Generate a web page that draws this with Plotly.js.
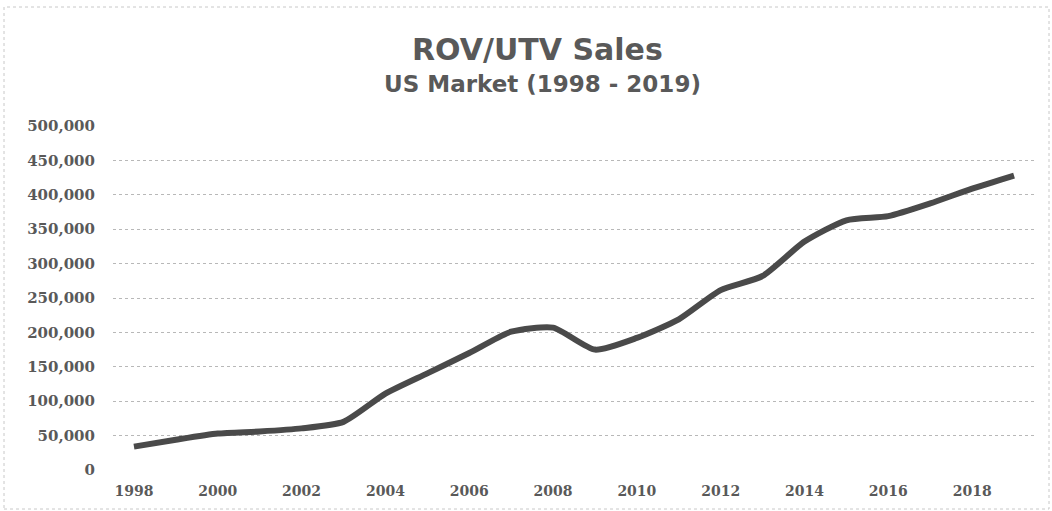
<!DOCTYPE html>
<html>
<head>
<meta charset="utf-8">
<script src="https://cdn.plot.ly/plotly-3.0.1.min.js"></script>
<style>
  html, body { margin: 0; padding: 0; background: #ffffff; }
  #plot { width: 1052px; height: 511px; }
</style>
</head>
<body>
<div id="plot"></div>
<script>
// Yearly ROV/UTV unit sales, US market
const years = [1998, 1999, 2000, 2001, 2002, 2003, 2004, 2005, 2006, 2007, 2008,
               2009, 2010, 2011, 2012, 2013, 2014, 2015, 2016, 2017, 2018, 2019];
const sales = [34000, 44000, 53000, 56000, 60500, 70000, 111000, 140500, 170000, 201000, 207000,
               175000, 192000, 219000, 261500, 282000, 332000, 363000, 369000, 387500, 409000, 428000];

const yTicks = [0, 50000, 100000, 150000, 200000, 250000, 300000, 350000, 400000, 450000, 500000];
const xTicks = [1998, 2000, 2002, 2004, 2006, 2008, 2010, 2012, 2014, 2016, 2018];

const M = { l: 113, r: 17, t: 126, b: 41 };
const W = 1052, H = 511;
const pw = W - M.l - M.r, ph = H - M.t - M.b;
// pixel -> paper helpers for the chart-area border and titles
const px = (x) => (x - M.l) / pw;
const py = (y) => 1 - (y - M.t) / ph;

const labelColor = "#595959";

const trace = {
  x: years,
  y: sales,
  type: "scatter",
  mode: "lines",
  line: { color: "#4a4a4a", width: 6, shape: "spline", smoothing: 0.6 },
  hoverinfo: "x+y",
};

const layout = {
  width: W,
  height: H,
  margin: M,
  showlegend: false,
  plot_bgcolor: "#ffffff",
  paper_bgcolor: "#ffffff",
  xaxis: {
    range: [1997.5, 2019.5],
    tickvals: xTicks,
    ticktext: xTicks.map(String),
    showgrid: false,
    zeroline: false,
    showline: false,
    ticks: "outside",
    ticklen: 8,
    tickcolor: "rgba(0,0,0,0)",
    tickfont: { family: "DejaVu Serif, serif", size: 14, color: labelColor, weight: "bold" },
  },
  yaxis: {
    range: [0, 500000],
    tickvals: yTicks,
    ticktext: yTicks.map((v) => v.toLocaleString("en-US")),
    showgrid: true,
    gridcolor: "#b8b8b8",
    gridwidth: 1,
    griddash: "dot",
    zeroline: false,
    showline: false,
    ticks: "outside",
    ticklen: 14,
    tickcolor: "rgba(0,0,0,0)",
    tickfont: { family: "DejaVu Serif, serif", size: 15, color: labelColor, weight: "bold" },
  },
  shapes: [
    {
      type: "rect", xref: "paper", yref: "paper",
      x0: px(4), x1: px(1049), y0: py(509), y1: py(7),
      line: { color: "#c8c8c8", width: 1, dash: "dot" },
      layer: "below",
    },
  ],
  annotations: [
    {
      xref: "paper", yref: "paper",
      x: px(537), y: py(49),
      xanchor: "center", yanchor: "middle",
      text: "<b>ROV/UTV Sales</b>",
      showarrow: false,
      font: { family: "DejaVu Sans, sans-serif", size: 30, color: labelColor },
    },
    {
      xref: "paper", yref: "paper",
      x: px(542), y: py(84),
      xanchor: "center", yanchor: "middle",
      text: "<b>US Market (1998 - 2019)</b>",
      showarrow: false,
      font: { family: "DejaVu Sans, sans-serif", size: 23, color: labelColor },
    },
  ],
};

Plotly.newPlot("plot", [trace], layout, { displayModeBar: false, staticPlot: true });
</script>
</body>
</html>
